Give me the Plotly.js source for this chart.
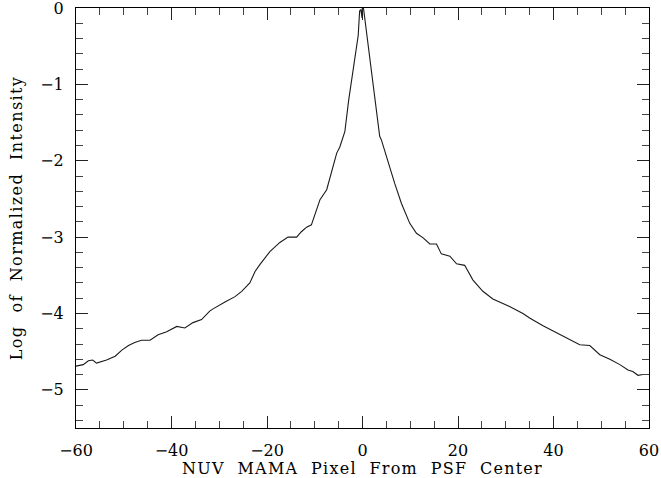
<!DOCTYPE html>
<html>
<head>
<meta charset="utf-8">
<script src="https://cdn.plot.ly/plotly-3.0.1.min.js"></script>
<style>
html,body{margin:0;padding:0;background:#fff;}
#chart{width:661px;height:478px;}
.xtitle{letter-spacing:1.25px;}
.ytitle{letter-spacing:1.4px;}
</style>
</head>
<body>
<div id="chart"></div>
<script>
// PSF radial profile: pixel offset from PSF center vs log normalized intensity
const pixelOffset = [
  -60, -59.5, -58.5, -57.4, -56.5, -55.7, -54.6, -53.6, -51.8, -50.4, -49.0, -47.7, -46.3, -44.5,
  -42.8, -41.0, -38.9, -37.2, -35.5, -33.7, -32.0, -31.3, -28.8, -26.7, -25.3, -23.6, -22.5,
  -21.5, -19.4, -17.3, -15.6, -13.8, -12.8, -11.7, -10.7, -9.6, -8.9, -7.5, -6.5, -5.4, -4.75,
  -3.7, -2.9, -1.8, -0.9, -0.6, -0.35, -0.1, -0.05, 0.2,
  1.0, 2.3, 3.6, 3.97, 5.36, 6.76, 8.16, 9.9, 11.3, 12.7, 14.1, 15.5, 16.5, 18.3, 19.7, 21.4,
  23.1, 25.2, 27.3, 29.8, 30.8, 33.6, 35.0, 37.8, 39.9, 41.6, 43.4, 45.5, 47.6, 49.7, 51.8,
  53.9, 55.6, 56.6, 57.7, 58.7, 60
];
const logIntensity = [
  -4.69, -4.68, -4.67, -4.62, -4.61, -4.65, -4.63, -4.61, -4.56, -4.48, -4.42, -4.38, -4.35, -4.35,
  -4.28, -4.24, -4.17, -4.19, -4.12, -4.08, -3.97, -3.94, -3.85, -3.78, -3.71, -3.60, -3.45,
  -3.36, -3.19, -3.07, -3.00, -3.00, -2.93, -2.87, -2.84, -2.64, -2.51, -2.38, -2.16, -1.90, -1.82,
  -1.62, -1.21, -0.72, -0.36, -0.04, -0.02, -0.13, 0.0, 0.0,
  -0.38, -1.02, -1.68, -1.73, -2.03, -2.30, -2.56, -2.82, -2.95, -3.01, -3.09, -3.09, -3.22, -3.25, -3.35, -3.37,
  -3.56, -3.71, -3.81, -3.88, -3.91, -4.00, -4.06, -4.16, -4.23, -4.28, -4.35, -4.41, -4.42, -4.54, -4.60,
  -4.67, -4.74, -4.76, -4.81, -4.80, -4.80
];
const xTickVals = [-60, -40, -20, 0, 20, 40, 60];
const yTickVals = [0, -1, -2, -3, -4, -5];
const xTitle = "NUV\u00a0\u00a0MAMA\u00a0\u00a0Pixel\u00a0\u00a0From\u00a0\u00a0PSF\u00a0\u00a0Center";
const yTitle = "Log\u00a0\u00a0of\u00a0\u00a0Normalized\u00a0\u00a0Intensity";

const serif = '"DejaVu Serif", serif';

const trace = {
  x: pixelOffset, y: logIntensity, type: 'scatter', mode: 'lines',
  line: {color: '#1a1a1a', width: 1.1}, hoverinfo: 'skip'
};
const axisCommon = {
  showline: true, linecolor: '#000', linewidth: 1, mirror: 'ticks',
  ticks: 'inside', ticklen: 12, tickwidth: 1, tickcolor: '#222',
  showgrid: false, zeroline: false,
  tickfont: {family: serif, size: 16, color: '#000'}
};
const layout = {
  width: 661, height: 478,
  margin: {l: 76, r: 12, t: 8, b: 50},
  paper_bgcolor: '#fff', plot_bgcolor: '#fff',
  showlegend: false,
  xaxis: Object.assign({}, axisCommon, {
    range: [-60, 60], tickvals: xTickVals,
    minor: {dtick: 5, tick0: 0, ticks: 'inside', ticklen: 7, tickcolor: '#444', showgrid: false},
    ticklabelstandoff: 8,
    ticklabeloverflow: 'allow',
    title: {text: xTitle, font: {family: serif, size: 16, color: '#000'}, standoff: 0}
  }),
  yaxis: Object.assign({}, axisCommon, {
    range: [-5.5, 0], tickvals: yTickVals,
    minor: {dtick: 0.2, tick0: 0, ticks: 'inside', ticklen: 7, tickcolor: '#444', showgrid: false},
    ticklabelstandoff: 8,
    ticklabeloverflow: 'allow',
    title: {text: yTitle, font: {family: serif, size: 16, color: '#000'}, standoff: 13}
  })
};
Plotly.newPlot('chart', [trace], layout, {displayModeBar: false, staticPlot: true});
</script>
</body>
</html>
